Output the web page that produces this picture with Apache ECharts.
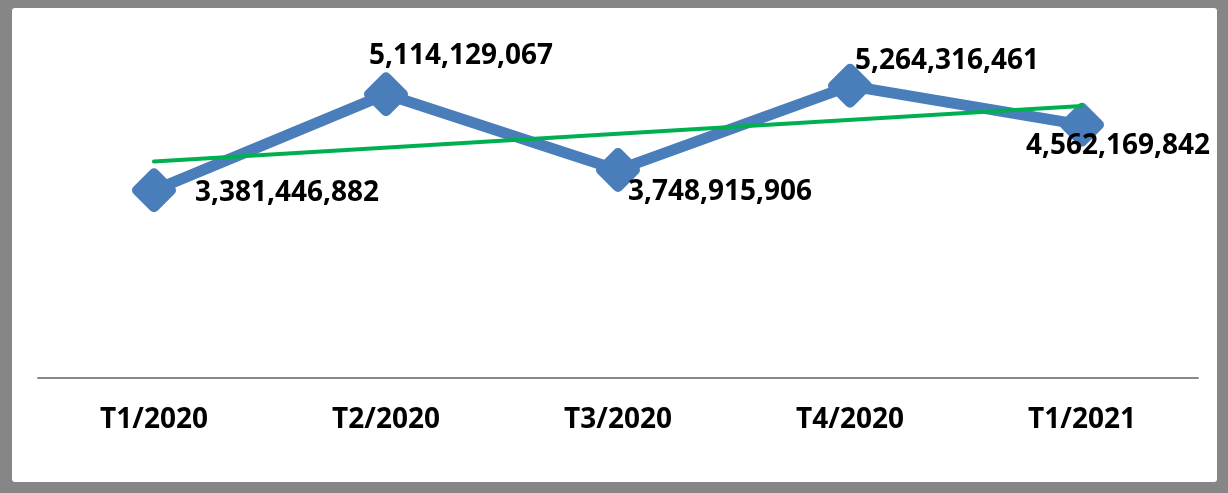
<!DOCTYPE html>
<html>
<head>
<meta charset="utf-8">
<script src="https://cdn.jsdelivr.net/npm/echarts@6/dist/echarts.min.js"></script>
<style>
  html, body { margin: 0; padding: 0; background: #868686; }
  .frame {
    position: absolute; left: 12px; top: 8px;
    width: 1205px; height: 474px;
    background: #fff; border-radius: 3px;
  }
  #chart { position: absolute; left: 0; top: 0; width: 1228px; height: 493px; }
</style>
</head>
<body>
<div class="frame"></div>
<div id="chart"></div>
<script>
// ── 数据 ─────────────────────────────────────────
const quarters = ['T1/2020', 'T2/2020', 'T3/2020', 'T4/2020', 'T1/2021']
const values   = [3381446882, 5114129067, 3748915906, 5264316461, 4562169842]
// trend line (only its two ends are drawn)
const trend    = [3.9e9, null, null, null, 4.9e9]

// label placement relative to each marker centre
const labelOffsets = [[133, 3], [75, -38], [102, 22], [97, -25], [36, 21]]

const BLUE  = '#4A7EBB'
const GREEN = '#00B050'
const FONT  = '"Open Sans", "DejaVu Sans", sans-serif'

const chart = echarts.init(document.getElementById('chart'), null, { renderer: 'canvas' })

chart.setOption({
  animation: false,
  backgroundColor: 'transparent',
  grid: { left: 38, right: 30, top: 45, bottom: 115 },
  xAxis: {
    type: 'category',
    data: quarters,
    boundaryGap: true,
    axisLine: { lineStyle: { color: '#898989', width: 2 } },
    axisTick: { show: false },
    axisLabel: {
      margin: 28,
      color: '#000',
      fontFamily: FONT,
      fontWeight: 'bold',
      fontSize: 28,
    },
  },
  yAxis: {
    type: 'value',
    min: 0,
    max: 6e9,
    show: false,
  },
  series: [
    {
      name: 'value',
      type: 'line',
      data: values.map((v, i) => ({
        value: v,
        label: { offset: labelOffsets[i] },
      })),
      symbol: 'diamond',
      symbolSize: 34,
      lineStyle: { color: BLUE, width: 11, cap: 'round', join: 'round' },
      itemStyle: { color: BLUE, borderColor: BLUE, borderWidth: 10, borderJoin: 'round' },
      label: {
        show: true,
        position: 'inside',
        align: 'center',
        verticalAlign: 'middle',
        color: '#000',
        fontFamily: FONT,
        fontWeight: 'bold',
        fontSize: 28,
        formatter: p => p.value.toLocaleString('en-US'),
      },
      z: 3,
    },
    {
      name: 'trend',
      type: 'line',
      data: trend,
      connectNulls: true,
      showSymbol: false,
      symbol: 'none',
      lineStyle: { color: GREEN, width: 4, cap: 'round' },
      z: 4,
    },
  ],
})
</script>
</body>
</html>
